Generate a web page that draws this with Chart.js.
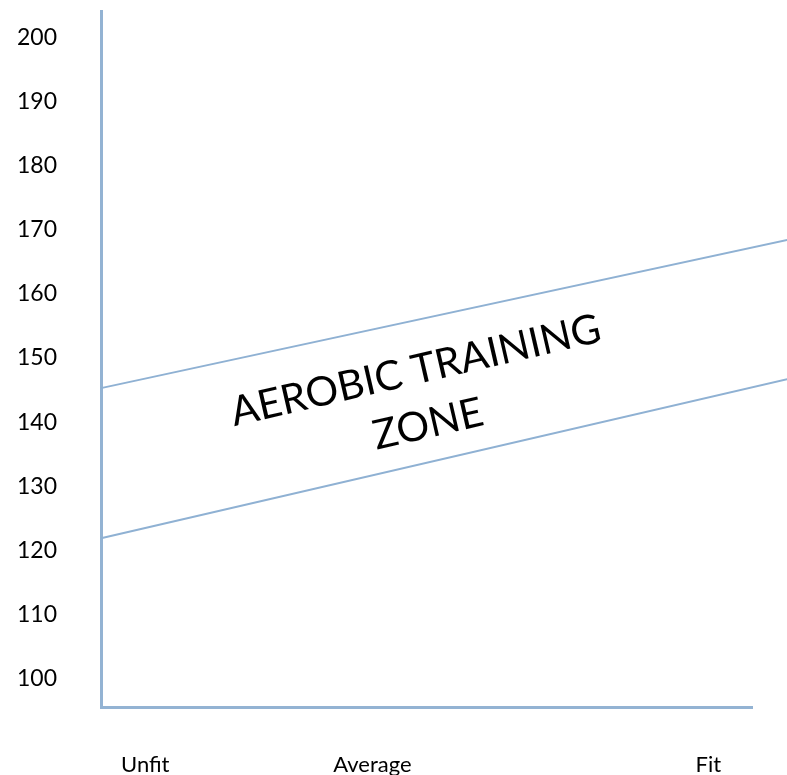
<!DOCTYPE html>
<html>
<head>
<meta charset="utf-8">
<script src="https://cdn.jsdelivr.net/npm/chart.js@4"></script>
<style>
  html, body { margin: 0; padding: 0; background: #ffffff; }
  #wrap { width: 787px; height: 775px; }
</style>
</head>
<body>
<div id="wrap"><canvas id="c" width="787" height="775"></canvas></div>
<script>
// Fitness level along the bottom, heart rate (bpm) up the side
const fitnessPos = [0, 10.54];
const upperLimit = [145.3, 168.4];
const lowerLimit = [121.9, 146.7];

const xTickLabels = ['Unfit', 'Average', 'Fit'];
const xTickValues = [0.68, 4.17, 9.33];
const yTickValues = [100, 110, 120, 130, 140, 150, 160, 170, 180, 190, 200];

const zoneLines = ['AEROBIC TRAINING', 'ZONE'];
const zoneAnchor = { x: 4.88, y: 146.0 };

const axisBlue = '#93b3d3';
const lineBlue = '#8fb1d3';
const labelFont = 'Lato, "Open Sans", sans-serif';

const toPoints = (xs, ys) => xs.map((x, i) => ({ x: x, y: ys[i] }));

const zoneLabel = {
  id: 'zoneLabel',
  afterDatasetsDraw(chart) {
    const { ctx, scales } = chart;
    const px = scales.x.getPixelForValue(zoneAnchor.x);
    const py = scales.y.getPixelForValue(zoneAnchor.y);
    ctx.save();
    ctx.translate(px, py);
    ctx.rotate(-13 * Math.PI / 180);
    ctx.fillStyle = '#000000';
    ctx.font = '400 41px ' + labelFont;
    ctx.textAlign = 'center';
    ctx.textBaseline = 'alphabetic';
    zoneLines.forEach((t, i) => ctx.fillText(t, 0, i * 55));
    ctx.restore();
  }
};

new Chart(document.getElementById('c'), {
  type: 'line',
  data: {
    datasets: [
      {
        label: 'Upper limit',
        data: toPoints(fitnessPos, upperLimit),
        borderColor: lineBlue,
        borderWidth: 2,
        pointRadius: 0,
        fill: false,
        clip: false
      },
      {
        label: 'Lower limit',
        data: toPoints(fitnessPos, lowerLimit),
        borderColor: lineBlue,
        borderWidth: 2,
        pointRadius: 0,
        fill: false,
        clip: false
      }
    ]
  },
  options: {
    responsive: false,
    animation: false,
    devicePixelRatio: 1,
    layout: { padding: { top: 11, right: 35, left: 0, bottom: 0 } },
    plugins: { legend: { display: false }, tooltip: { enabled: false } },
    scales: {
      x: {
        type: 'linear',
        min: 0,
        max: 10,
        grid: { display: false, drawTicks: false },
        border: { display: true, color: axisBlue, width: 3 },
        afterFit(scale) {
          scale.height = 67.5;
          scale.paddingLeft = 0;
          scale.paddingRight = 0;
        },
        afterBuildTicks(scale) { scale.ticks = xTickValues.map(v => ({ value: v })); },
        ticks: {
          autoSkip: false,
          maxRotation: 0,
          padding: 44,
          color: '#000000',
          font: { family: labelFont, size: 22 },
          callback: (v, i) => xTickLabels[i]
        }
      },
      y: {
        type: 'linear',
        min: 95.5,
        max: 204.1,
        grid: { display: false, drawTicks: false },
        border: { display: true, color: axisBlue, width: 3 },
        afterFit(scale) {
          scale.width = 101;
          scale.paddingTop = 0;
          scale.paddingBottom = 0;
        },
        afterBuildTicks(scale) { scale.ticks = yTickValues.map(v => ({ value: v })); },
        ticks: {
          padding: 44,
          color: '#000000',
          font: { family: labelFont, size: 23 },
          callback: v => String(v)
        }
      }
    }
  },
  plugins: [zoneLabel]
});
</script>
</body>
</html>
